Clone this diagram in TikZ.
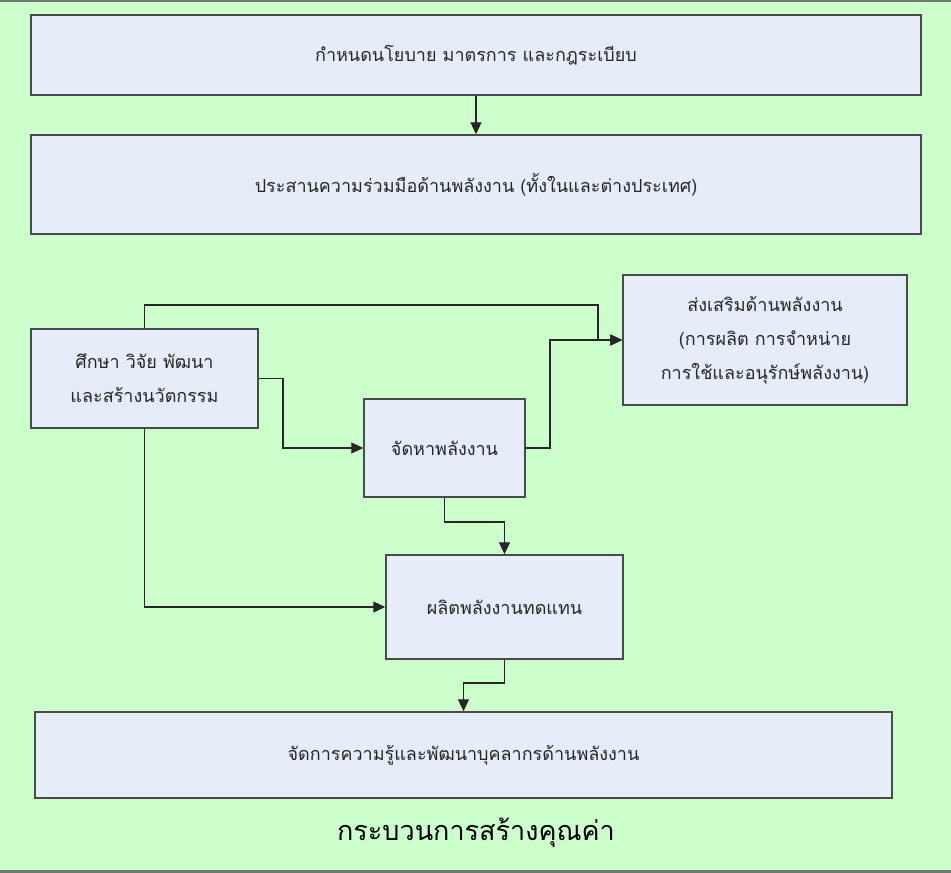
\documentclass[tikz,border=0pt]{standalone}
\usepackage{fontspec}
\newfontfamily\thaifont[Script=Thai]{Loma}
\usetikzlibrary{arrows.meta}
\definecolor{bggreen}{HTML}{CCFFCC}
\definecolor{boxfill}{HTML}{E6ECF8}
\definecolor{boxline}{HTML}{4A4A4A}
\definecolor{rulegray}{HTML}{6E7A6E}
\tikzset{
  stage/.style={draw=boxline, line width=1.5pt, fill=boxfill, inner sep=0pt,
    align=center, font=\thaifont\fontsize{18}{34}\selectfont, text=black!85},
  flow/.style={draw=black!85, line width=1.1pt},
  tip/.style={-{Triangle[length=12pt,width=11pt]}}
}
\begin{document}
\begin{tikzpicture}[x=1pt, y=-1pt]
  % canvas
  \fill[bggreen] (0,0) rectangle (951,873);
  \path[use as bounding box] (0,0) rectangle (951,873);
  \draw[rulegray, line width=1.5pt] (0,1) -- (951,1);
  \draw[rulegray, line width=3pt] (0,871) -- (951,871);

  % stages
  \node[stage, minimum width=890pt, minimum height=80pt] (policy) at (476,55)
    {กำหนดนโยบาย มาตรการ และกฎระเบียบ};
  \node[stage, minimum width=890pt, minimum height=99pt] (coop) at (476,184.5)
    {ประสานความร่วมมือด้านพลังงาน (ทั้งในและต่างประเทศ)};
  \node[stage, minimum width=227pt, minimum height=99pt] (research) at (144.5,378.5)
    {ศึกษา วิจัย พัฒนา\\และสร้างนวัตกรรม};
  \node[stage, minimum width=161pt, minimum height=98pt] (supply) at (444.5,448)
    {จัดหาพลังงาน};
  \node[stage, minimum width=284pt, minimum height=130pt] (promo) at (765,340)
    {ส่งเสริมด้านพลังงาน\\(การผลิต การจำหน่าย\\การใช้และอนุรักษ์พลังงาน)};
  \node[stage, minimum width=237pt, minimum height=104pt] (renew) at (504.5,607)
    {ผลิตพลังงานทดแทน};
  \node[stage, minimum width=857pt, minimum height=86pt] (knowledge) at (463.5,755)
    {จัดการความรู้และพัฒนาบุคลากรด้านพลังงาน};

  % caption
  \node[font=\thaifont\fontsize{27}{32}\selectfont, text=black] (caption) at (476,833)
    {กระบวนการสร้างคุณค่า};

  % connectors
  \draw[flow, tip] (policy.south) -- (coop.north);
  \draw[flow, tip] (research.north) -- (144.5,305) -- (598,305) -- (598,340) -- (promo.west);
  \draw[flow, tip] (supply.east) -- (550,448) -- (550,340) -- (promo.west);
  \draw[flow, tip] (research.east) -- (283,378.5) -- (283,448) -- (supply.west);
  \draw[flow, tip] (supply.south) -- (444.5,522) -- (504.5,522) -- (renew.north);
  \draw[flow, tip] (research.south) -- (144.5,607) -- (renew.west);
  \draw[flow, tip] (renew.south) -- (504.5,683) -- (463.5,683) -- (knowledge.north);
\end{tikzpicture}
\end{document}
